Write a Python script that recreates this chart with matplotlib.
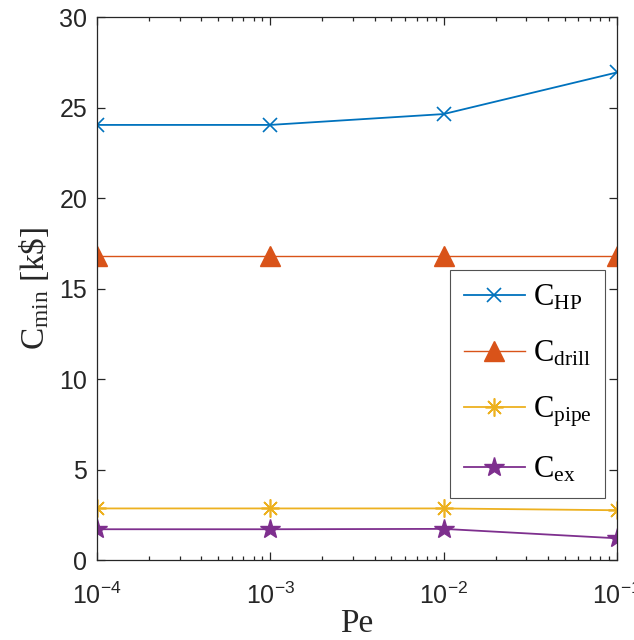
import matplotlib
matplotlib.use("Agg")
import matplotlib.pyplot as plt
from matplotlib.ticker import LogLocator, NullFormatter, FixedLocator

# Data
pe = [1e-4, 1e-3, 1e-2, 1e-1]
c_hp = [24.05, 24.05, 24.65, 26.95]
c_drill = [16.8, 16.8, 16.8, 16.8]
c_pipe = [2.85, 2.85, 2.85, 2.75]
c_ex = [1.7, 1.7, 1.72, 1.2]

labels = [r"C$_\mathregular{HP}$", r"C$_\mathregular{drill}$",
          r"C$_\mathregular{pipe}$", r"C$_\mathregular{ex}$"]
xtick_labels = [r"$10^{-4}$", r"$10^{-3}$", r"$10^{-2}$", r"$10^{-1}$"]

plt.rcParams["font.family"] = ["Liberation Sans", "DejaVu Sans"]
plt.rcParams["mathtext.default"] = "regular"

AX_COLOR = "#262626"
SERIF = ["Liberation Serif", "DejaVu Serif"]

fig = plt.figure(figsize=(6.34, 6.40), dpi=100)
ax = fig.add_axes([0.153, 0.125, 0.820, 0.848])

ax.plot(pe, c_hp, color="#0072BD", lw=1.3, marker="x", ms=10, mew=1.2, label=labels[0])
ax.plot(pe, c_drill, color="#D95319", lw=1.0, marker="^", ms=14, mfc="#D95319", mec="#D95319",
        label=labels[1])
ax.plot(pe, c_pipe, color="#EDB120", lw=1.3, marker=(8, 2, 0), ms=13, mew=1.2, label=labels[2])
ax.plot(pe, c_ex, color="#7E2F8E", lw=1.3, marker="*", ms=15, mfc="#7E2F8E", mec="#7E2F8E",
        label=labels[3])

ax.set_xscale("log")
ax.set_xlim(1e-4, 1e-1)
ax.set_ylim(0, 30)
ax.yaxis.set_major_locator(FixedLocator([0, 5, 10, 15, 20, 25, 30]))
ax.xaxis.set_major_locator(FixedLocator(pe))
ax.set_xticklabels(xtick_labels)
ax.xaxis.set_minor_locator(LogLocator(base=10, subs=range(2, 10)))
ax.xaxis.set_minor_formatter(NullFormatter())

ax.tick_params(which="both", direction="in", top=True, right=True, colors=AX_COLOR,
               labelcolor=AX_COLOR, labelsize=18, width=0.9)
ax.tick_params(which="major", length=6)
ax.tick_params(which="minor", length=3)
ax.tick_params(axis="x", pad=16)
ax.tick_params(axis="y", pad=7)
for sp in ax.spines.values():
    sp.set_color(AX_COLOR)
    sp.set_linewidth(0.9)

ax.set_xlabel("Pe", fontsize=24, family=SERIF, color=AX_COLOR, labelpad=0)
ax.set_ylabel(r"C$_\mathregular{min}$ [k\$]", fontsize=24, family=SERIF, color=AX_COLOR, labelpad=6)

leg = ax.legend(loc="lower left", bbox_to_anchor=(0.679, 0.114), prop={"family": SERIF, "size": 22},
                frameon=True, fancybox=False, edgecolor=AX_COLOR, handlelength=2.0,
                handletextpad=0.25, labelspacing=0.85, borderpad=0.45, borderaxespad=0)
leg.get_frame().set_linewidth(0.8)

fig.savefig("out.png", dpi=100)
